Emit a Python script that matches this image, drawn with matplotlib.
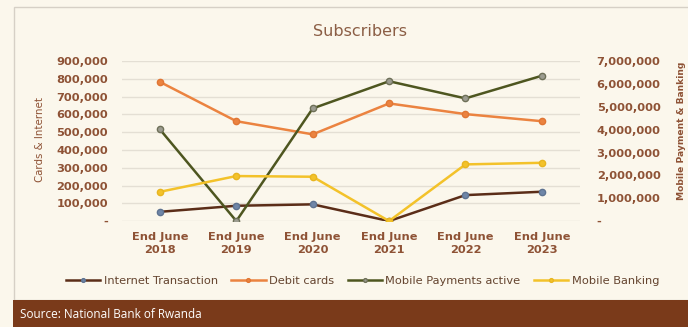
"""Subscribers by channel, cards/internet on the left axis, mobile on the right."""

import matplotlib

matplotlib.use("Agg")
import matplotlib.pyplot as plt
from matplotlib.patches import Rectangle
from matplotlib.ticker import FuncFormatter

PERIODS = ["End June\n2018", "End June\n2019", "End June\n2020",
           "End June\n2021", "End June\n2022", "End June\n2023"]

# left axis (cards & internet)
INTERNET_TRANSACTION = [52_000, 86_000, 94_000, 0, 146_000, 165_000]
DEBIT_CARDS = [783_000, 562_000, 488_000, 662_000, 602_000, 562_000]

# right axis (mobile payment & banking)
MOBILE_PAYMENTS_ACTIVE = [4_010_000, 0, 4_930_000, 6_120_000, 5_370_000, 6_360_000]
MOBILE_BANKING = [1_280_000, 1_970_000, 1_940_000, 0, 2_480_000, 2_550_000]

LEFT_TICKS = [0, 100_000, 200_000, 300_000, 400_000, 500_000, 600_000, 700_000, 800_000, 900_000]
RIGHT_TICKS = [0, 1_000_000, 2_000_000, 3_000_000, 4_000_000, 5_000_000, 6_000_000, 7_000_000]

BG = "#FBF7EC"
TEXT = "#8E5235"
GRID = "#E4DFD4"
BAR = "#7A3A1A"


def thousands(value, _pos):
    return "-" if value == 0 else f"{int(value):,}"


def main() -> None:
    fig = plt.figure(figsize=(6.88, 3.27), dpi=100, facecolor=BG)
    ax = fig.add_axes([0.177, 0.324, 0.666, 0.489])
    ax.set_facecolor(BG)
    ax2 = ax.twinx()

    x = range(len(PERIODS))
    ax.plot(x, INTERNET_TRANSACTION, color="#5B2D18", linewidth=1.8, marker="o",
            markersize=4.5, markerfacecolor="#6F86A8", markeredgecolor="#5E7391",
            label="Internet Transaction", zorder=3)
    ax.plot(x, DEBIT_CARDS, color="#EB8340", linewidth=1.8, marker="o",
            markersize=4.5, markerfacecolor="#EB8340", markeredgecolor="#E07634",
            label="Debit cards", zorder=3)
    ax2.plot(x, MOBILE_PAYMENTS_ACTIVE, color="#4E5620", linewidth=1.8, marker="o",
             markersize=4.5, markerfacecolor="#9C9C90", markeredgecolor="#6E7058",
             label="Mobile Payments active", zorder=3)
    ax2.plot(x, MOBILE_BANKING, color="#F3C22A", linewidth=1.8, marker="o",
             markersize=4.5, markerfacecolor="#F3C22A", markeredgecolor="#E8B520",
             label="Mobile Banking", zorder=3)

    ax.set_xlim(-0.5, len(PERIODS) - 0.5)
    ax.set_ylim(0, 900_000)
    ax2.set_ylim(0, 7_000_000)
    ax.set_yticks(LEFT_TICKS)
    ax2.set_yticks(RIGHT_TICKS)
    ax.yaxis.set_major_formatter(FuncFormatter(thousands))
    ax2.yaxis.set_major_formatter(FuncFormatter(thousands))
    ax.set_xticks(list(x))
    ax.set_xticklabels(PERIODS)

    ax.grid(axis="y", color=GRID, linewidth=1.0)
    ax.set_axisbelow(True)
    for a in (ax, ax2):
        for spine in a.spines.values():
            spine.set_visible(False)
    ax.tick_params(axis="y", length=0, pad=10, labelsize=8.2, labelcolor=TEXT)
    ax.tick_params(axis="x", length=0, pad=8, labelsize=8.2, labelcolor=TEXT)
    ax2.tick_params(axis="y", length=0, pad=12, labelsize=8.2, labelcolor=TEXT)
    for label in ax.get_yticklabels() + ax.get_xticklabels() + ax2.get_yticklabels():
        label.set_fontweight("bold")
    for label in ax.get_xticklabels():
        label.set_linespacing(1.4)

    fig.text(40 / 688, 0.572, "Cards & Internet", rotation=90, ha="center", va="center",
             fontsize=7.4, color=TEXT)
    fig.text(681 / 688, 0.599, "Mobile Payment & Banking", rotation=90, ha="center",
             va="center", fontsize=6.6, color=TEXT, fontweight="bold")
    fig.text(0.523, 1 - 32 / 327, "Subscribers", ha="center", va="center",
             fontsize=11.5, color="#8B5E45")

    handles = ax.get_lines() + ax2.get_lines()
    leg = fig.legend(handles, [h.get_label() for h in handles], loc="center",
                     bbox_to_anchor=(0.527, 1 - 281 / 327), ncol=4, frameon=False,
                     fontsize=8.2, handlelength=3.0, handletextpad=0.3,
                     columnspacing=1.2, markerscale=0.6)
    for text in leg.get_texts():
        text.set_color("#64442F")

    # outer frame and source band
    fig.patches.append(Rectangle((14 / 688, 27 / 327), 1.0, 1 - 7 / 327 - 27 / 327,
                                 transform=fig.transFigure, facecolor="none",
                                 edgecolor="#D6D0C6", linewidth=1.0))
    fig.patches.append(Rectangle((13 / 688, 0), 1.0, 27 / 327, transform=fig.transFigure,
                                 facecolor=BAR, edgecolor="none"))
    fig.text(20 / 688, 13 / 327, "Source: National Bank of Rwanda", ha="left",
             va="center", fontsize=8.5, color="white", family="Open Sans")

    fig.savefig("out.png", dpi=100, facecolor=BG)
    plt.close(fig)


if __name__ == "__main__":
    main()
